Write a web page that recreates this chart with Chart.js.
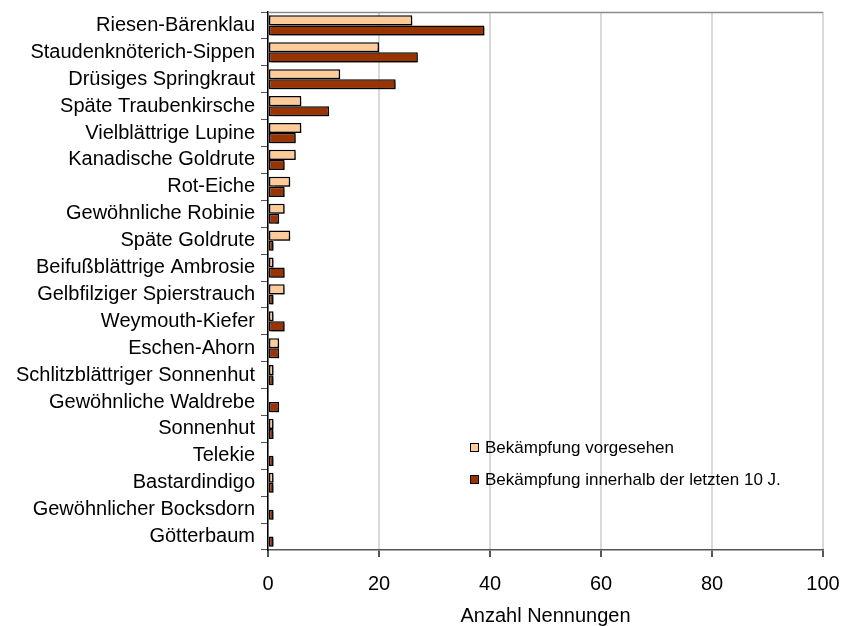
<!DOCTYPE html>
<html><head><meta charset="utf-8">
<script src="https://cdn.jsdelivr.net/npm/chart.js@4.4.0/dist/chart.umd.min.js"></script>
<style>html,body{margin:0;padding:0;background:#fff}#wrap{width:843px;height:626px}</style>
</head><body><div id="wrap"><canvas id="c"></canvas></div>
<script>
const categories = ["Riesen-Bärenklau","Staudenknöterich-Sippen","Drüsiges Springkraut","Späte Traubenkirsche","Vielblättrige Lupine","Kanadische Goldrute","Rot-Eiche","Gewöhnliche Robinie","Späte Goldrute","Beifußblättrige Ambrosie","Gelbfilziger Spierstrauch","Weymouth-Kiefer","Eschen-Ahorn","Schlitzblättriger Sonnenhut","Gewöhnliche Waldrebe","Sonnenhut","Telekie","Bastardindigo","Gewöhnlicher Bocksdorn","Götterbaum"];
const vorgesehen = [26,20,13,6,6,5,4,3,4,1,3,1,2,1,0,1,0,1,0,0];
const letzte10 = [39,27,23,11,5,3,3,2,1,3,1,3,2,1,2,1,1,1,1,1];
const seriesNames = ["Bekämpfung vorgesehen","Bekämpfung innerhalb der letzten 10 J."];
const xTicks = [0,20,40,60,80,100];
const xTitle = "Anzahl Nennungen";

const FONT = "'Liberation Sans', Arial, sans-serif";

const shadowPlugin = {
  id:'shadow',
  beforeDatasetsDraw(chart){ const c=chart.ctx; c.save(); c.shadowColor='rgba(0,0,0,0.45)'; c.shadowOffsetX=2; c.shadowOffsetY=2; c.shadowBlur=1; },
  afterDatasetsDraw(chart){ chart.ctx.restore(); }
};
const frame = {
  id:'frame',
  beforeDatasetsDraw(chart){
    const {ctx, chartArea:a} = chart;
    ctx.save(); ctx.strokeStyle='#8c8c8c'; ctx.lineWidth=1.5;
    ctx.beginPath(); ctx.moveTo(a.left, a.top+0.5); ctx.lineTo(a.right, a.top+0.5); ctx.stroke();
    ctx.restore();
  }
};
const legendPlugin = {
  id:'customLegend',
  afterDraw(chart){
    const {ctx, chartArea:a} = chart; const ys = chart.scales.y;
    const x0 = a.left + 202;
    const yPos = [ys.getPixelForValue(15.67), ys.getPixelForValue(16.86)];
    ctx.save();
    ctx.font = "17px " + FONT; ctx.textBaseline='middle';
    chart.data.datasets.forEach((ds,i)=>{
      const y = Math.round(yPos[i]);
      ctx.fillStyle = ds.backgroundColor; ctx.fillRect(x0, y-4, 9, 9);
      ctx.strokeStyle='#000'; ctx.lineWidth=1; ctx.strokeRect(x0+0.5, y-3.5, 8, 8);
      ctx.fillStyle='#000'; ctx.fillText(ds.label, x0+15, y+1);
    });
    ctx.restore();
  }
};

new Chart(document.getElementById('c'), {
  type:'bar',
  data:{ labels:categories, datasets:[
    {label:seriesNames[0], data:vorgesehen, backgroundColor:'#FFCC99', borderColor:'#000', borderWidth:1.5, borderSkipped:false, categoryPercentage:0.75, barPercentage:1.0},
    {label:seriesNames[1], data:letzte10, backgroundColor:'#993300', borderColor:'#000', borderWidth:1.5, borderSkipped:false, categoryPercentage:0.75, barPercentage:1.0}
  ]},
  options:{
    indexAxis:'y', responsive:true, maintainAspectRatio:false, animation:false,
    layout:{padding:{top:12, right:20, left:0, bottom:0}},
    plugins:{legend:{display:false}, tooltip:{enabled:false}},
    scales:{
      x:{ min:0, max:100, afterBuildTicks(s){ s.ticks = xTicks.map(v=>({value:v})); },
        afterFit(s){ s.height = 76; s.paddingLeft = 0; s.paddingRight = 0; },
        grid:{color:'#d9d9d9', lineWidth:2, tickColor:'#555', tickLength:7, drawTicks:true},
        border:{color:'#555', width:1.5},
        ticks:{color:'#000', font:{family:FONT, size:20}, padding:15, maxRotation:0},
        title:{display:true, text:xTitle, color:'#000', font:{family:FONT, size:20, lineHeight:1}, padding:{top:0, bottom:0}}
      },
      y:{ afterFit(s){ s.width = 268; s.paddingTop = 0; s.paddingBottom = 0; },
        grid:{offset:true, drawOnChartArea:false, tickColor:'#555', tickLength:7},
        border:{color:'#000', width:1.5},
        ticks:{color:'#000', font:{family:FONT, size:20}, padding:6, autoSkip:false}
      }
    }
  },
  plugins:[frame, shadowPlugin, legendPlugin]
});
</script></body></html>
